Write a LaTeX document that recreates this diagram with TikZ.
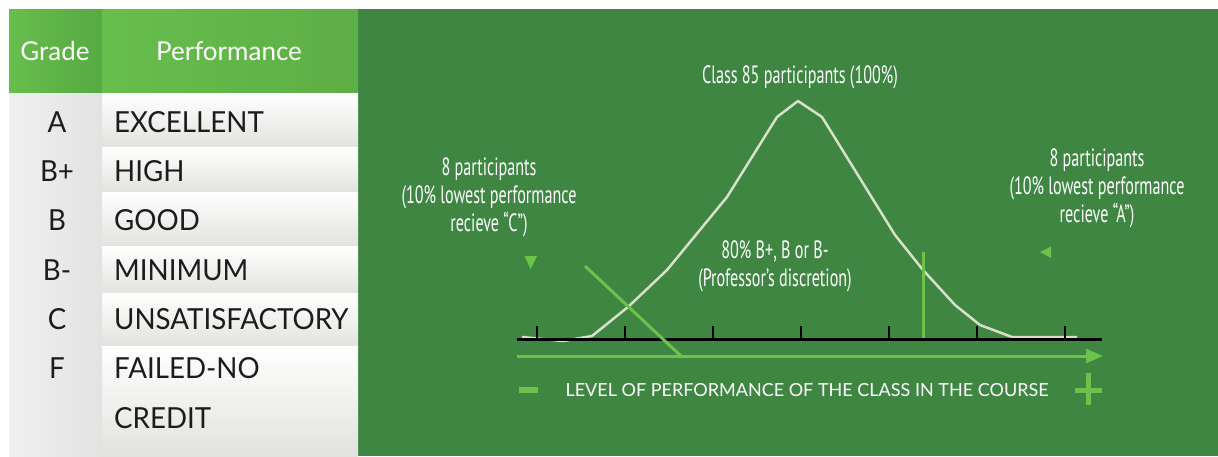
\documentclass[tikz,border=0pt]{standalone}
\usepackage{fontspec}
\setmainfont{Lato}
\newfontfamily\tablefont[FakeStretch=0.955]{Lato}
\newfontfamily\condfont[FakeStretch=0.645]{PT Sans}
\usetikzlibrary{arrows.meta}
\definecolor{panelgreen}{RGB}{62,134,66}
\definecolor{headgreen}{RGB}{102,190,76}
\definecolor{headdark}{RGB}{86,170,66}
\definecolor{linegreen}{RGB}{108,194,74}
\definecolor{curvecol}{RGB}{216,224,200}
\definecolor{rowgrey}{RGB}{226,226,222}
\definecolor{textdark}{RGB}{28,28,28}
\tikzset{
  hdr/.style={text=white, font=\fontsize{26}{30}\selectfont, inner sep=0pt},
  gradetxt/.style={text=textdark, font=\tablefont\fontsize{29}{34}\selectfont, inner sep=0pt, anchor=base},
  perftxt/.style={text=textdark, font=\tablefont\fontsize{29}{34}\selectfont, inner sep=0pt, anchor=base west},
  lbl/.style={text=white, font=\condfont\fontsize{25}{28}\selectfont, align=center, inner sep=0pt, anchor=north},
  axislbl/.style={text=white, font=\fontsize{18}{20}\selectfont, inner sep=0pt},
  curve/.style={draw=curvecol, line width=2.5pt, line join=round},
  gline/.style={draw=linegreen, line width=3pt},
  axisline/.style={draw=black, line width=3pt},
  tick/.style={draw=black, line width=2pt},
  mark tri/.style={fill=linegreen},
}
\begin{document}
\begin{tikzpicture}[x=1pt,y=-1pt]
\useasboundingbox (0,0) rectangle (1218,456);
\fill[white] (0,0) rectangle (1218,456);
% green panel
\fill[panelgreen] (358,9) rectangle (1218,456);
% table header
\shade[left color=headgreen, right color=headdark] (9,9) rectangle (102,93);
\shade[left color=headgreen, right color=headgreen!92!black] (102,9) rectangle (358,93);
% table rows
\foreach \a/\b in {93/147,147/192,192/246,246/293,293/346,346/456}{
  \shade[top color=white, bottom color=rowgrey] (102,\a) rectangle (358,\b);
  \shade[left color=gray!12, middle color=white, right color=gray!22] (9,\a) rectangle (102,\b);
}
% header text
\node[hdr] (hgrade) at (55,51) {Grade};
\node[hdr] (hperf) at (229,51) {Performance};
% rows
\node[gradetxt] (gA) at (57,132) {A};
\node[perftxt] (pA) at (114,132) {EXCELLENT};
\node[gradetxt] (gBp) at (57,181) {B+};
\node[perftxt] (pBp) at (114,181) {HIGH};
\node[gradetxt] (gB) at (57,230.5) {B};
\node[perftxt] (pB) at (114,230.5) {GOOD};
\node[gradetxt] (gBm) at (57,280) {B-};
\node[perftxt] (pBm) at (114,280) {MINIMUM};
\node[gradetxt] (gC) at (57,329) {C};
\node[perftxt] (pC) at (114,329) {UNSATISFACTORY};
\node[gradetxt] (gF) at (57,378) {F};
\node[perftxt] (pF) at (114,378) {FAILED-NO};
\node[perftxt] (pF2) at (114,428) {CREDIT};
% chart coordinates
\coordinate (axL) at (517,339);
\coordinate (axR) at (1102,339);
\coordinate (arL) at (517,356);
\coordinate (arR) at (1103,356);
% curve
\draw[curve] (522,337) -- (563,341) -- (592,336) -- (628,307) -- (667,270) -- (727,197)
  -- (777,117) -- (798,101) -- (822,117) -- (895,235) -- (923,270) -- (955,305)
  -- (980,325) -- (1012,337) -- (1077,337);
% axis
\draw[axisline] (axL) -- (axR);
\foreach \t in {537,625,713,801,889,977,1065}{
  \draw[tick] (\t,326) -- (\t,339);
}
% green arrow
\draw[gline, -{Triangle[length=17pt,width=14pt]}] (arL) -- (arR);
% diagonal and vertical green lines
\coordinate (dTop) at (585,266);
\coordinate (dBot) at (681,356);
\draw[gline] (dTop) -- (dBot);
\coordinate (vTop) at (923.5,252);
\coordinate (vBot) at (923.5,338);
\draw[gline] (vTop) -- (vBot);
% small triangles
\fill[mark tri] (524.5,256) -- (537,256) -- (530.5,269) -- cycle;
\fill[mark tri] (1040,252) -- (1051,246.5) -- (1051,258) -- cycle;
% labels
\node[lbl] (top) at (800,65) {Class 85 participants (100\%)};
\node[lbl] (left) at (489,157) {8 participants\\(10\% lowest performance\\recieve “C”)};
\node[lbl] (right) at (1097,148) {8 participants\\(10\% lowest performance\\recieve “A”)};
\node[lbl] (mid) at (775,240) {80\% B+, B or B-\\(Professor’s discretion)};
% axis caption
\fill[linegreen] (519,387) rectangle (538,393);
\fill[linegreen] (1075,387.5) rectangle (1102,392.5);
\fill[linegreen] (1086,373) rectangle (1091,405);
\node[axislbl] (cap) at (807,390) {LEVEL OF PERFORMANCE OF THE CLASS IN THE COURSE};
\end{tikzpicture}
\end{document}
